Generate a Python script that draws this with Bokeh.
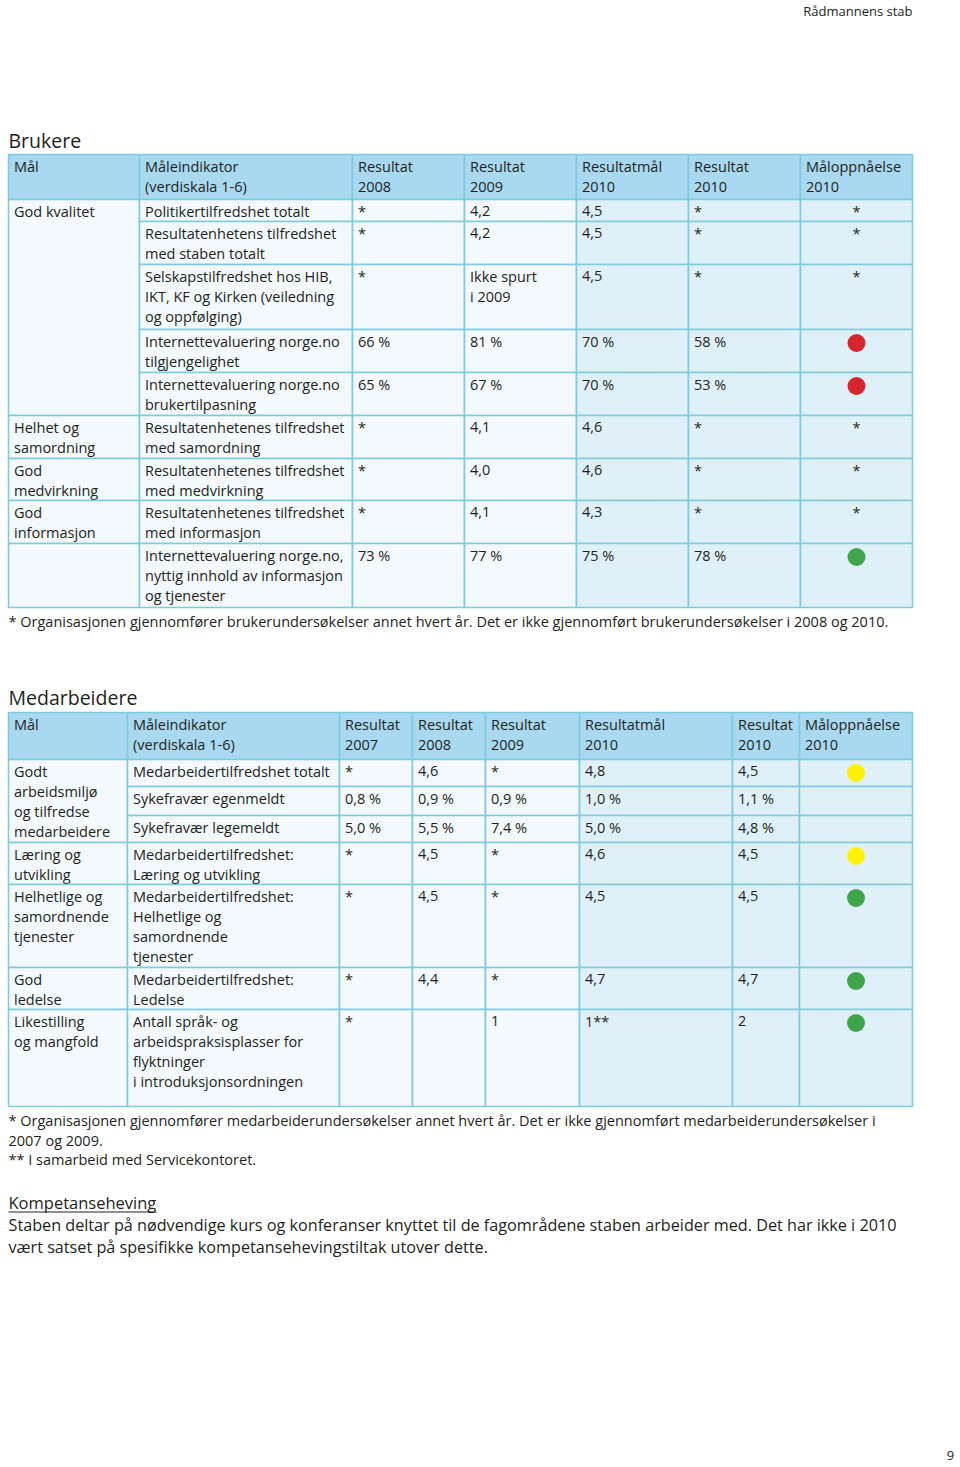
from bokeh.plotting import figure
from bokeh.models import Range1d
from bokeh.embed import file_html
from bokeh.resources import INLINE
from bokeh.core.properties import value

# ------------------------------------------------------------------ data
page_header = "Rådmannens stab"
page_number = "9"

brukere_title = "Brukere"
brukere_header = ["Mål", "Måleindikator\n(verdiskala 1-6)", "Resultat\n2008", "Resultat\n2009",
                  "Resultatmål\n2010", "Resultat\n2010", "Måloppnåelse\n2010"]
brukere_goals = ["God kvalitet", "Helhet og\nsamordning", "God\nmedvirkning", "God\ninformasjon", ""]
brukere_goal_rows = [5, 1, 1, 1, 1]
brukere_indicators = [
    "Politikertilfredshet totalt",
    "Resultatenhetens tilfredshet\nmed staben totalt",
    "Selskapstilfredshet hos HIB,\nIKT, KF og Kirken (veiledning\nog oppfølging)",
    "Internettevaluering norge.no\ntilgjengelighet",
    "Internettevaluering norge.no\nbrukertilpasning",
    "Resultatenhetenes tilfredshet\nmed samordning",
    "Resultatenhetenes tilfredshet\nmed medvirkning",
    "Resultatenhetenes tilfredshet\nmed informasjon",
    "Internettevaluering norge.no,\nnyttig innhold av informasjon\nog tjenester",
]
brukere_res2008 = ["*", "*", "*", "66 %", "65 %", "*", "*", "*", "73 %"]
brukere_res2009 = ["4,2", "4,2", "Ikke spurt\ni 2009", "81 %", "67 %", "4,1", "4,0", "4,1", "77 %"]
brukere_goal2010 = ["4,5", "4,5", "4,5", "70 %", "70 %", "4,6", "4,6", "4,3", "75 %"]
brukere_res2010 = ["*", "*", "*", "58 %", "53 %", "*", "*", "*", "78 %"]
brukere_status = ["*", "*", "*", "red", "red", "*", "*", "*", "green"]
brukere_note = ("* Organisasjonen gjennomfører brukerundersøkelser annet hvert år. "
                "Det er ikke gjennomført brukerundersøkelser i 2008 og 2010.")

medarb_title = "Medarbeidere"
medarb_header = ["Mål", "Måleindikator\n(verdiskala 1-6)", "Resultat\n2007", "Resultat\n2008",
                 "Resultat\n2009", "Resultatmål\n2010", "Resultat\n2010", "Måloppnåelse\n2010"]
medarb_goals = ["Godt\narbeidsmiljø\nog tilfredse\nmedarbeidere", "Læring og\nutvikling",
                "Helhetlige og\nsamordnende\ntjenester", "God\nledelse", "Likestilling\nog mangfold"]
medarb_goal_rows = [3, 1, 1, 1, 1]
medarb_indicators = [
    "Medarbeidertilfredshet totalt",
    "Sykefravær egenmeldt",
    "Sykefravær legemeldt",
    "Medarbeidertilfredshet:\nLæring og utvikling",
    "Medarbeidertilfredshet:\nHelhetlige og\nsamordnende\ntjenester",
    "Medarbeidertilfredshet:\nLedelse",
    "Antall språk- og\narbeidspraksisplasser for\nflyktninger\ni introduksjonsordningen",
]
medarb_res2007 = ["*", "0,8 %", "5,0 %", "*", "*", "*", "*"]
medarb_res2008 = ["4,6", "0,9 %", "5,5 %", "4,5", "4,5", "4,4", ""]
medarb_res2009 = ["*", "0,9 %", "7,4 %", "*", "*", "*", "1"]
medarb_goal2010 = ["4,8", "1,0 %", "5,0 %", "4,6", "4,5", "4,7", "1**"]
medarb_res2010 = ["4,5", "1,1 %", "4,8 %", "4,5", "4,5", "4,7", "2"]
medarb_status = ["yellow", "", "", "yellow", "green", "green", "green"]
medarb_notes = [
    "* Organisasjonen gjennomfører medarbeiderundersøkelser annet hvert år. Det er ikke gjennomført medarbeiderundersøkelser i",
    "2007 og 2009.",
    "** I samarbeid med Servicekontoret.",
]

komp_heading = "Kompetanseheving"
komp_text = [
    "Staben deltar på nødvendige kurs og konferanser knyttet til de fagområdene staben arbeider med. Det har ikke i 2010",
    "vært satset på spesifikke kompetansehevingstiltak utover dette.",
]

# ------------------------------------------------------------------ layout / style
W, H = 960, 1467
T1_X = [8, 139, 352, 464, 576, 688, 800, 912]
T1_Y = [154, 199, 221, 264, 329, 372, 415, 458, 500, 543, 607]
T2_X = [8, 127, 339, 412, 485, 579, 732, 799, 912]
T2_Y = [712, 759, 786, 815, 842, 884, 967, 1009, 1106]

FONT = value("Open Sans")
FS = "14.5px"
TXT = "#231f20"
HEAD_FILL = "#a8d9f0"
PALE_FILL = "#f3f9fd"
BLUE_FILL = "#e0f0f9"
BORDER = "#7dcbe0"
STATUS_COLORS = {"red": "#d8262d", "green": "#3ea548", "yellow": "#fff200"}
LINE_H = 20

p = figure(width=W, height=H, x_range=Range1d(0, W), y_range=Range1d(H, 0),
           output_backend="svg", toolbar_location=None, x_axis_type=None, y_axis_type=None,
           min_border=0, outline_line_color=None)
p.grid.visible = False
p.background_fill_color = "white"
p.border_fill_color = "white"


def text_lines(x, top, s, align="left", first=11.5, fs=FS, step=LINE_H):
    xs, ys, ts = [], [], []
    for k, line in enumerate(s.split("\n")):
        if line:
            xs.append(x)
            ys.append(top + first + step * k)
            ts.append(line)
    if ts:
        p.text(xs, ys, text=ts, text_font=FONT, text_font_size=fs, text_color=TXT,
               text_align=align, text_baseline="middle")


def table(xe, ye, header, goals, goal_rows, indicators, value_cols, status, pale_cols):
    ncol = len(xe) - 1
    # header
    p.quad(left=xe[:-1], right=xe[1:], top=[ye[0]] * ncol, bottom=[ye[1]] * ncol,
           fill_color=HEAD_FILL, line_color=BORDER, line_width=1.6)
    for j, h in enumerate(header):
        text_lines(xe[j] + 5.5, ye[0], h, first=12)
    rows = ye[1:]
    # goal column (merged cells)
    r = 0
    for g, n in zip(goals, goal_rows):
        p.quad(left=[xe[0]], right=[xe[1]], top=[rows[r]], bottom=[rows[r + n]],
               fill_color=PALE_FILL, line_color=BORDER, line_width=1.6)
        text_lines(xe[0] + 5.5, rows[r], g)
        r += n
    # other columns
    cols = [indicators] + value_cols + [status]
    for j, col in enumerate(cols, start=1):
        fill = PALE_FILL if j < pale_cols else BLUE_FILL
        n = len(col)
        p.quad(left=[xe[j]] * n, right=[xe[j + 1]] * n, top=rows[:-1], bottom=rows[1:],
               fill_color=fill, line_color=BORDER, line_width=1.6)
        for i, v in enumerate(col):
            if j == ncol - 1:
                cx = (xe[j] + xe[j + 1]) / 2
                if v in STATUS_COLORS:
                    p.scatter([cx], [rows[i] + 13.5], size=18, marker="circle",
                              fill_color=STATUS_COLORS[v], line_color=None)
                elif v:
                    text_lines(cx, rows[i], v, align="center")
            else:
                text_lines(xe[j] + 5.5, rows[i], v)


# page header
p.text([912], [10], text=[page_header], text_font=FONT, text_font_size="13px", text_color=TXT,
       text_align="right", text_baseline="middle")

# Brukere
p.text([8], [140], text=[brukere_title], text_font=FONT, text_font_size="19.5px", text_color=TXT,
       text_align="left", text_baseline="middle")
table(T1_X, T1_Y, brukere_header, brukere_goals, brukere_goal_rows, brukere_indicators,
      [brukere_res2008, brukere_res2009, brukere_goal2010, brukere_res2010], brukere_status, 4)
text_lines(8, 621, brukere_note, first=0)

# Medarbeidere
p.text([8], [697], text=[medarb_title], text_font=FONT, text_font_size="19.5px", text_color=TXT,
       text_align="left", text_baseline="middle")
table(T2_X, T2_Y, medarb_header, medarb_goals, medarb_goal_rows, medarb_indicators,
      [medarb_res2007, medarb_res2008, medarb_res2009, medarb_goal2010, medarb_res2010],
      medarb_status, 5)
text_lines(8, 1120, "\n".join(medarb_notes), first=0, step=19.5)

# Kompetanseheving
p.text([8], [1202], text=[komp_heading], text_font=FONT, text_font_size="16.5px", text_color=TXT,
       text_align="left", text_baseline="middle")
p.segment(x0=[8], y0=[1211.5], x1=[156], y1=[1211.5], line_color=TXT, line_width=1)
text_lines(8, 1224, "\n".join(komp_text), first=0, fs="16.2px", step=22)

# page number
p.text([950], [1455], text=[page_number], text_font=FONT, text_font_size="13px", text_color=TXT,
       text_align="center", text_baseline="middle")

open("out.html", "w").write(file_html(p, INLINE))
